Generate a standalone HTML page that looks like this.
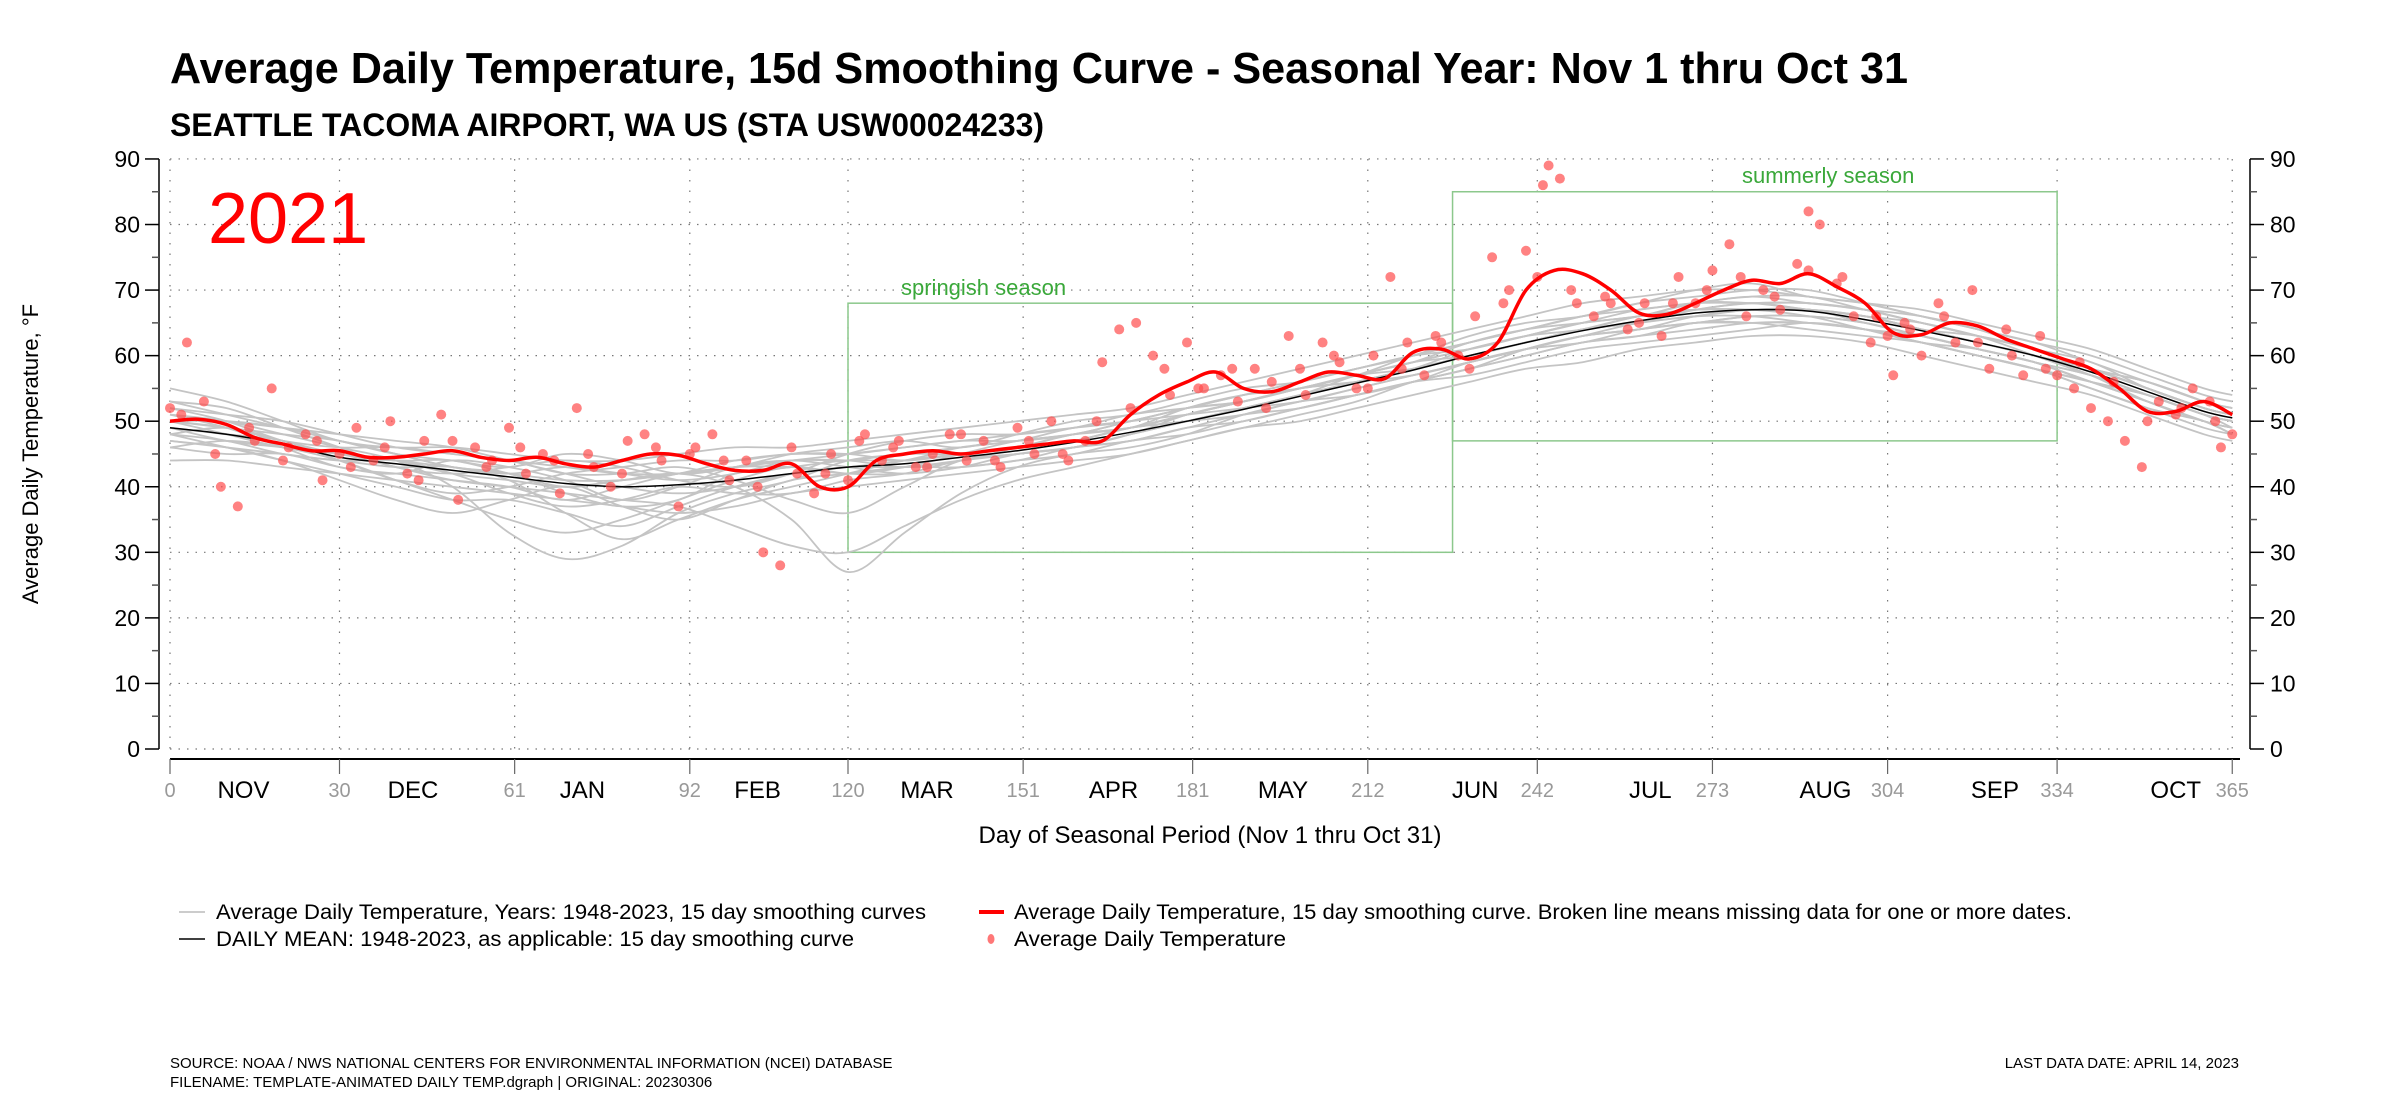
<!DOCTYPE html>
<html><head><meta charset="utf-8"><style>
html,body{margin:0;padding:0;background:#fff;}
svg{display:block;font-family:"Liberation Sans",Arial,sans-serif;}
</style></head><body>
<svg id="chart" width="2400" height="1100" viewBox="0 0 2400 1100" xmlns="http://www.w3.org/2000/svg">
<text x="170" y="83" font-size="44" font-weight="bold" textLength="1738" lengthAdjust="spacingAndGlyphs">Average Daily Temperature, 15d Smoothing Curve - Seasonal Year: Nov 1 thru Oct 31</text>
<text x="170" y="136" font-size="32" font-weight="bold" textLength="874" lengthAdjust="spacingAndGlyphs">SEATTLE TACOMA AIRPORT, WA US (STA USW00024233)</text>
<g id="grid"></g>
<g id="boxes"></g>
<g id="gray"></g>
<g id="meanG"></g>
<g id="dots"></g>
<g id="redG"></g>
<g id="axes"></g>
<text x="208" y="243" font-size="72" fill="#ff0000">2021</text>
<text transform="translate(38,454) rotate(-90)" text-anchor="middle" font-size="22">Average Daily Temperature, °F</text>
<text x="1210" y="843" text-anchor="middle" font-size="24" textLength="463" lengthAdjust="spacingAndGlyphs">Day of Seasonal Period (Nov 1 thru Oct 31)</text>
<g font-size="21">
<line x1="179" y1="912" x2="205" y2="912" stroke="#bbb" stroke-width="1.5"/>
<text x="216" y="919" textLength="710" lengthAdjust="spacingAndGlyphs">Average Daily Temperature, Years: 1948-2023, 15 day smoothing curves</text>
<line x1="179" y1="939" x2="205" y2="939" stroke="#000" stroke-width="1.5"/>
<text x="216" y="946" textLength="638" lengthAdjust="spacingAndGlyphs">DAILY MEAN: 1948-2023, as applicable: 15 day smoothing curve</text>
<line x1="979" y1="912" x2="1004" y2="912" stroke="#f00" stroke-width="4"/>
<text x="1014" y="919" textLength="1058" lengthAdjust="spacingAndGlyphs">Average Daily Temperature, 15 day smoothing curve. Broken line means missing data for one or more dates.</text>
<ellipse cx="991" cy="939" rx="3.5" ry="5" fill="#f55" opacity="0.8"/>
<text x="1014" y="946" textLength="272" lengthAdjust="spacingAndGlyphs">Average Daily Temperature</text>
</g>
<text x="170" y="1068" font-size="15">SOURCE: NOAA / NWS NATIONAL CENTERS FOR ENVIRONMENTAL INFORMATION (NCEI) DATABASE</text>
<text x="170" y="1087" font-size="15">FILENAME: TEMPLATE-ANIMATED DAILY TEMP.dgraph | ORIGINAL: 20230306</text>
<text x="2239" y="1068" text-anchor="end" font-size="15">LAST DATA DATE: APRIL 14, 2023</text>
</svg>
<script>
const yTicks = [0,10,20,30,40,50,60,70,80,90];
const xTickDays = [0,30,61,92,120,151,181,212,242,273,304,334,365];
const monthNames = ["NOV","DEC","JAN","FEB","MAR","APR","MAY","JUN","JUL","AUG","SEP","OCT"];
const monthCenterDays = [13,43,73,104,134,167,197,231,262,293,323,355];
const curveDays = [0,10,20,30,40,50,60,70,80,90,100,110,120,130,140,150,160,170,180,190,200,210,220,230,240,250,260,270,280,290,300,310,320,330,340,350,360,365];
const meanTemps = [49,48,46.5,44.5,43.5,42.5,41.5,40.5,40,40.3,41,42,43,43.5,44.5,45.5,46.8,48.3,50,51.8,53.8,55.8,57.8,60,62,63.8,65.3,66.5,67,66.8,65.5,63.8,62,60,57.5,54.5,51.5,50.5];
const g1=[53,51,49,47,45,44,43,45,44,42,43,45,46,47,46,48,50,51,53,55,56,58,60,63,65,66,68,70,71,69,68,66,64,62,60,57,54,53];
const g2=[47,46,44,41,38,36,38,40,37,35,38,41,42,43,43,44,45,47,48,50,52,54,56,58,60,62,63,65,65,64,63,62,60,58,55,52,49,48];
const g3=[51,50,48,46,44,40,33,29,31,36,39,41,44,45,46,47,48,49,52,54,55,57,59,61,63,65,67,68,69,68,67,65,63,61,58,55,52,51];
const g4=[46,45,45,43,42,44,43,41,38,40,43,44,43,42,43,44,46,47,49,50,52,54,56,57,59,61,62,63,64,65,64,62,60,58,56,53,50,49];
const g5=[50,49,47,46,46,45,44,42,42,43,41,38,36,40,44,45,46,48,51,53,55,56,58,61,63,65,66,68,68,67,66,64,63,61,58,56,53,51];
const g6=[48,47,45,44,43,43,41,36,32,35,38,40,42,44,45,46,47,49,50,52,54,57,59,62,64,65,66,67,67,66,64,62,61,59,57,54,51,50];
const g7=[52,50,47,45,44,42,41,40,41,42,40,35,27,33,39,43,45,46,48,51,53,55,57,59,61,63,65,66,67,67,66,64,62,60,58,55,52,51];
const g8=[49,48,47,44,41,39,40,42,43,44,44,45,45,46,47,47,48,50,52,54,56,58,60,62,64,66,68,69,70,70,68,66,64,62,59,56,53,52];
const g9=[50,49,48,47,45,43,42,39,37,38,42,43,44,44,45,46,47,49,50,51,53,54,56,59,61,62,64,65,66,66,65,63,61,59,56,53,50,49];
const g10=[51,49,46,43,42,41,40,38,40,42,43,44,44,43,44,46,48,49,51,53,55,57,58,60,62,64,65,67,67,67,66,65,63,61,59,55,52,51];
const g11=[47,46,45,44,44,42,39,37,38,40,39,39,41,42,44,45,46,47,49,51,52,54,56,58,60,62,63,64,65,65,64,63,61,59,56,53,50,48];
const g12=[50,50,49,47,45,43,42,43,42,41,42,44,44,45,45,46,48,49,51,53,55,57,59,61,63,64,66,67,67,67,66,64,62,60,58,55,52,51];
const g13=[48,46,44,42,40,38,38,36,34,37,40,42,43,43,44,45,46,48,50,52,54,56,58,60,62,64,65,67,68,68,67,65,63,60,57,54,51,49];
const g14=[52,51,50,48,46,45,44,43,42,42,43,44,45,46,47,48,49,50,52,53,55,56,57,59,61,63,64,65,66,66,65,63,61,59,57,54,51,50];
const g15=[55,53,50,47,46,46,45,44,44,45,46,46,47,48,49,50,51,52,54,56,58,60,62,64,66,68,69,70,70,69,68,67,65,63,61,58,55,54];
const g16=[44,44,43,42,41,40,39,38,37,36,37,39,40,41,42,43,44,45,47,49,50,52,54,56,58,59,61,62,63,63,62,60,58,56,54,51,48,47];
const g17=[50,48,46,45,43,41,40,39,38,37,34,31,30,34,38,41,43,45,47,49,51,53,56,58,61,63,64,66,67,67,65,63,61,59,56,54,51,50];
const g18=[49,47,46,45,44,44,42,40,41,42,44,45,45,44,45,46,47,49,51,53,55,57,59,60,62,64,65,66,66,65,64,62,60,58,55,52,50,48];
const g19=[53,52,49,46,43,42,43,44,43,41,40,42,45,47,48,48,49,51,52,53,55,57,60,62,64,66,67,68,68,68,67,66,64,61,58,56,53,52];
const g20=[46,47,46,44,41,38,35,33,35,38,41,43,42,42,43,45,46,48,50,52,54,56,58,60,62,64,66,67,68,67,66,64,62,60,57,53,50,49];
const g21=[51,50,49,48,47,46,44,42,40,39,40,42,43,44,46,47,49,50,51,52,53,55,57,59,61,63,64,65,65,65,64,62,60,58,56,54,51,50];
const g22=[48,49,47,45,44,43,42,41,41,42,43,43,42,43,45,47,48,50,52,54,56,58,60,61,63,65,66,68,69,69,67,65,63,61,58,55,52,51];
const grayCurves=[g1,g2,g3,g4,g5,g6,g7,g8,g9,g10,g11,g12,g13,g14,g15,g16,g17,g18,g19,g20,g21,g22];
const redTemps = [50,50.3,49.5,47.5,46.5,45.5,45.5,44.5,44.5,45,45.5,44.5,44,44.5,43.5,43,44,45,44.8,43.5,42.5,42.5,43.5,40,40,44,45,45.5,45,45.5,46,46.5,47,47,51,54,56,57.5,55,54.5,56,57.5,57,56.5,60.5,61,59.5,62,70,73,72.5,70,66.5,66.3,68,70,71.5,71,72.5,70.5,68,63.5,63.2,65,64.5,62.5,61,59.5,58,55,51.5,51.5,53,51];
const dotDays = [0,3,6,9,12,15,18,21,24,27,30,33,36,39,42,45,48,51,54,57,60,63,66,69,72,75,78,81,84,87,90,93,96,99,102,105,108,111,114,117,120,123,126,129,132,135,138,141,144,147,150,153,156,159,162,165,168,171,174,177,180,183,186,189,192,195,198,201,204,207,210,213,216,219,222,225,228,231,234,237,240,243,244,246,249,252,255,258,261,264,267,270,273,276,279,282,285,288,290,292,295,298,301,304,305,307,310,313,316,319,322,325,328,331,334,337,340,343,346,349,352,355,358,361,363,365];
const dotTemps = [52,62,53,40,37,47,55,46,48,41,45,49,44,50,42,47,51,38,46,44,49,42,45,39,52,43,40,47,48,44,37,46,48,41,44,30,28,42,39,45,41,48,44,47,43,45,48,44,47,43,49,45,50,44,47,59,64,65,60,54,62,55,57,53,58,56,63,54,62,59,55,60,72,62,57,62,60,66,75,70,76,86,89,87,68,66,68,64,68,63,72,68,73,77,66,70,67,74,82,80,71,66,62,63,57,65,60,68,62,70,58,64,57,63,57,55,52,50,47,43,53,51,55,53,46,48];
const dotTemps2 = [51,45,49,44,47,43,46,41,47,43,46,44,45,42,46,45,44,40,46,42,47,46,43,48,44,47,45,50,52,58,55,58,52,58,60,55,58,63,58,68,72,70,69,65,68,70,72,69,73,72,66,64,66,62,60,58,59,56,50,52,50];
const boxSpring = [120,227,30,68];
const boxSummer = [227,334,47,85];

const NS="http://www.w3.org/2000/svg";
function xs(d){return 170+d*5.65;}
function ys(t){return 749-t*6.556;}
function mk(tag,attrs,parent){const e=document.createElementNS(NS,tag);for(const k in attrs)e.setAttribute(k,attrs[k]);parent.appendChild(e);return e;}
function smooth(pts){let d="M"+pts[0][0].toFixed(1)+","+pts[0][1].toFixed(1);for(let i=0;i<pts.length-1;i++){const p0=pts[Math.max(i-1,0)],p1=pts[i],p2=pts[i+1],p3=pts[Math.min(i+2,pts.length-1)];const c1x=p1[0]+(p2[0]-p0[0])/6,c1y=p1[1]+(p2[1]-p0[1])/6,c2x=p2[0]-(p3[0]-p1[0])/6,c2y=p2[1]-(p3[1]-p1[1])/6;d+=" C"+c1x.toFixed(1)+","+c1y.toFixed(1)+" "+c2x.toFixed(1)+","+c2y.toFixed(1)+" "+p2[0].toFixed(1)+","+p2[1].toFixed(1);}return d;}

const grid=document.getElementById('grid');
yTicks.forEach(t=>{const l=mk('line',{x1:170,x2:2234,y1:ys(t),y2:ys(t),stroke:'#777','stroke-width':1.2,'stroke-dasharray':'1.5,7'},grid);

});
xTickDays.forEach(d=>{const l=mk('line',{x1:xs(d),x2:xs(d),y1:ys(90),y2:ys(0),stroke:'#777','stroke-width':1.2,'stroke-dasharray':'1.5,9'},grid);

});

const boxes=document.getElementById('boxes');
[[boxSpring,'springish-box'],[boxSummer,'summerly-box']].forEach(([b,n])=>{const r=mk('rect',{x:xs(b[0]),y:ys(b[3]),width:xs(b[1])-xs(b[0]),height:ys(b[2])-ys(b[3]),fill:'none',stroke:'#8cc88c','stroke-width':1.5},boxes);

});
const t1=mk('text',{x:901,y:295,'font-size':22,fill:'#3aa83a'},boxes);t1.textContent='springish season';


const t2=mk('text',{x:1742,y:183,'font-size':22,fill:'#3aa83a'},boxes);t2.textContent='summerly season';



const gray=document.getElementById('gray');
grayCurves.forEach(c=>{const p=mk('path',{d:smooth(c.map((v,i)=>[xs(curveDays[i]),ys(v)])),fill:'none',stroke:'#c4c4c4','stroke-width':1.8},gray);

});

const mp=mk('path',{d:smooth(meanTemps.map((v,i)=>[xs(curveDays[i]),ys(v)])),fill:'none',stroke:'#000','stroke-width':1.5},document.getElementById('meanG'));



const dots=document.getElementById('dots');
dotTemps.forEach((v,i)=>{const c=mk('circle',{cx:xs(dotDays[i]),cy:ys(v),r:5,fill:'#ff4d4d','fill-opacity':0.7},dots);

});
dotTemps2.forEach((v,i)=>{const c=mk('circle',{cx:xs(i*6+2),cy:ys(v),r:5,fill:'#ff4d4d','fill-opacity':0.7},dots);

});

const rp=mk('path',{d:smooth(redTemps.map((v,i)=>[xs(Math.min(i*5,365)),ys(v)])),fill:'none',stroke:'#ff0000','stroke-width':3.5},document.getElementById('redG'));



const axes=document.getElementById('axes');
mk('line',{x1:159,x2:159,y1:ys(90),y2:ys(0),stroke:'#000','stroke-width':1.5},axes);
mk('line',{x1:2250,x2:2250,y1:ys(90),y2:ys(0),stroke:'#000','stroke-width':1.5},axes);
mk('line',{x1:170,x2:2240,y1:759,y2:759,stroke:'#000','stroke-width':2},axes);
for(let t=0;t<=90;t+=5){const major=t%10===0;
mk('line',{x1:major?145:152,x2:159,y1:ys(t),y2:ys(t),stroke:major?'#000':'#555','stroke-width':1.5},axes);
mk('line',{x1:2250,x2:major?2264:2257,y1:ys(t),y2:ys(t),stroke:major?'#000':'#555','stroke-width':1.5},axes);}
yTicks.forEach(t=>{const a=mk('text',{x:140,y:ys(t)+8,'text-anchor':'end','font-size':23},axes);a.textContent=t;


const b=mk('text',{x:2270,y:ys(t)+8,'font-size':23},axes);b.textContent=t;

});
xTickDays.forEach(d=>{mk('line',{x1:xs(d),x2:xs(d),y1:759,y2:774,stroke:'#666','stroke-width':1.2},axes);
const a=mk('text',{x:xs(d),y:797,'text-anchor':'middle','font-size':20,fill:'#999'},axes);a.textContent=d;

});
monthNames.forEach((m,i)=>{const a=mk('text',{x:xs(monthCenterDays[i]),y:798,'text-anchor':'middle','font-size':24},axes);a.textContent=m;

});
</script>
</body></html>
